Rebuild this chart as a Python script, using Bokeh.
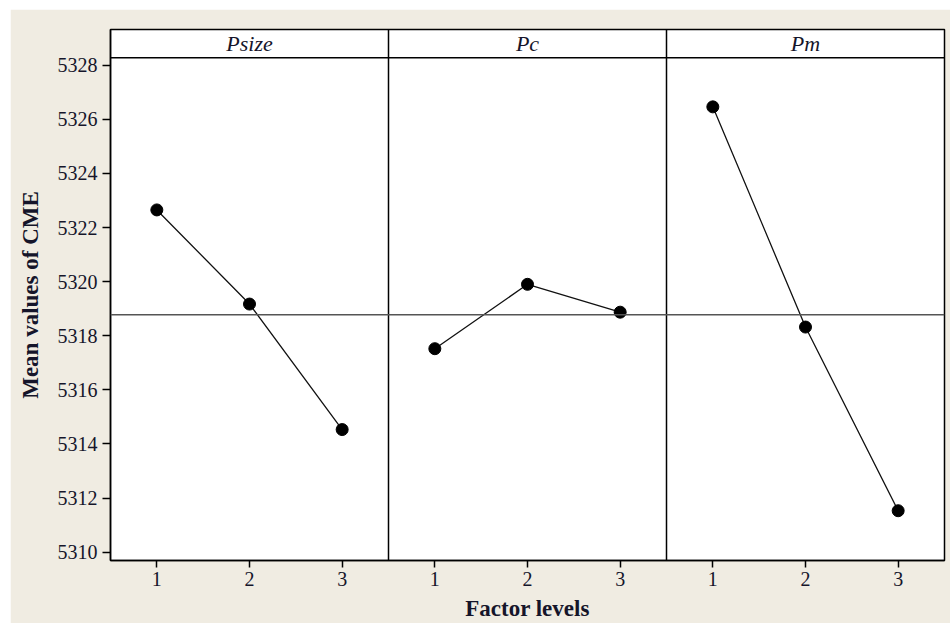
import numpy as np
from bokeh.plotting import figure
from bokeh.layouts import column, row
from bokeh.models import FixedTicker, Span, Range1d, ColumnDataSource, Spacer
from bokeh.core.properties import value
from bokeh.embed import file_html
from bokeh.resources import INLINE

# ---- data ----
factors = ["Psize", "Pc", "Pm"]
levels = [1, 2, 3]
psize_means = [5322.65, 5319.17, 5314.53]
pc_means = [5317.52, 5319.90, 5318.87]
pm_means = [5326.46, 5318.32, 5311.53]
y_ticks = [5310, 5312, 5314, 5316, 5318, 5320, 5322, 5324, 5326, 5328]

series = [psize_means, pc_means, pm_means]
grand_mean = float(np.mean(psize_means + pc_means + pm_means))

# ---- layout constants ----
BG = "#f0ece2"
TXT = "#15152a"
SERIF = "Liberation Serif"
Y0, Y1 = 5309.69, 5329.32     # frame range (includes header strip)
HDR_BOTTOM = 5328.28          # bottom of the header strip
OFF_X, OFF_Y = 10, 9          # white page margin seen in the reference
W, H = 940, 614
MB_L, MB_R, MB_T, MB_B = 100, 6, 20, 62

n_lev = len(levels)
p = figure(width=W, height=H, title=None,
           x_range=Range1d(0.5, 0.5 + n_lev * len(factors)),
           y_range=Range1d(Y0, Y1),
           output_backend="svg", toolbar_location=None,
           min_border_left=MB_L, min_border_right=MB_R,
           min_border_top=MB_T, min_border_bottom=MB_B)
p.background_fill_color = "white"
p.border_fill_color = BG
p.outline_line_color = "black"
p.outline_line_width = 1.5
p.grid.visible = False

# header strip separator and panel dividers
p.add_layout(Span(location=HDR_BOTTOM, dimension="width",
                  line_color="black", line_width=1.5))
for i in range(1, len(factors)):
    p.add_layout(Span(location=0.5 + i * n_lev, dimension="height",
                      line_color="black", line_width=1.5))

# grand mean reference line
p.add_layout(Span(location=grand_mean, dimension="width",
                  line_color="#555555", line_width=1.5))

xticks = []
overrides = {}
for i, (name, ys) in enumerate(zip(factors, series)):
    xs = [lv + i * n_lev for lv in levels]
    src = ColumnDataSource(dict(x=xs, y=ys))
    p.line("x", "y", source=src, line_color="#111111", line_width=1.3)
    p.scatter("x", "y", source=src, size=12, fill_color="black",
              line_color="black")
    for lv, x in zip(levels, xs):
        xticks.append(x)
        overrides[x] = str(lv)

# header titles
hdr_mid = (HDR_BOTTOM + Y1) / 2
p.text(x=[np.mean(levels) + i * n_lev for i in range(len(factors))],
       y=[hdr_mid] * len(factors), text=factors,
       text_font=value(SERIF), text_font_style="italic",
       text_font_size="22px", text_color=TXT,
       text_align="center", text_baseline="middle")

# axes
p.xaxis.ticker = FixedTicker(ticks=xticks)
p.xaxis.major_label_overrides = overrides
p.yaxis.ticker = FixedTicker(ticks=y_ticks)
for ax in (p.xaxis[0], p.yaxis[0]):
    ax.axis_line_color = "black"
    ax.axis_line_width = 1.5
    ax.major_tick_line_color = "black"
    ax.major_tick_line_width = 1.5
    ax.major_tick_in = 0
    ax.minor_tick_line_color = None
    ax.major_label_text_font = SERIF
    ax.major_label_text_font_size = "20px"
    ax.major_label_text_color = TXT
    ax.axis_label_text_font = SERIF
    ax.axis_label_text_font_style = "bold"
    ax.axis_label_text_font_size = "23px"
    ax.axis_label_text_color = TXT
p.xaxis.major_tick_out = 7
p.xaxis.major_label_standoff = 4
p.yaxis.major_tick_out = 8
p.yaxis.major_label_standoff = 5

p.yaxis.axis_label = "Mean values of CME"
p.yaxis.axis_label_standoff = 12
p.xaxis.axis_label = "Factor levels"
p.xaxis.axis_label_standoff = 7

layout = column(Spacer(height=OFF_Y, width=W + OFF_X),
                row(Spacer(width=OFF_X, height=H), p))

open("out.html", "w").write(file_html(layout, INLINE))
